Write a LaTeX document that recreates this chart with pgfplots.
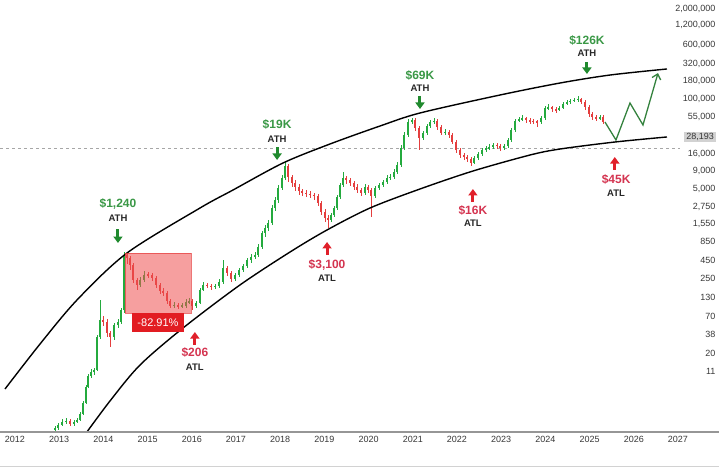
\documentclass[border=0pt]{standalone}
\usepackage{fontspec}
\setmainfont{Liberation Sans}
\usepackage{pgfplots}
\pgfplotsset{compat=1.18}
\usepackage{pgfplotstable}
\usetikzlibrary{arrows.meta}
\definecolor{cgreen}{RGB}{36,170,62}
\definecolor{cred}{RGB}{228,62,62}
\definecolor{agreen}{RGB}{32,138,46}
\definecolor{ared}{RGB}{224,32,42}
\definecolor{tgreen}{RGB}{58,152,70}
\definecolor{tred}{RGB}{212,52,80}
\definecolor{axisgray}{RGB}{150,150,150}
\definecolor{ticktext}{RGB}{55,55,55}
\definecolor{zig}{RGB}{52,130,62}

% x = year, o/c/h/l = log10 of price (open, close, high, low)
\pgfplotstableread{
x o c h l
2012.905 0.19 0.22 0.25 0.17
2012.973 0.22 0.27 0.30 0.20
2013.063 0.27 0.31 0.36 0.25
2013.154 0.31 0.33 0.37 0.28
2013.244 0.33 0.28 0.35 0.25
2013.335 0.28 0.31 0.34 0.26
2013.403 0.31 0.34 0.37 0.29
2013.471 0.34 0.43 0.46 0.32
2013.538 0.43 0.59 0.62 0.41
2013.606 0.59 0.82 0.85 0.57
2013.652 0.82 0.98 1.01 0.80
2013.719 0.98 1.04 1.08 0.95
2013.787 1.04 1.07 1.10 1.00
2013.855 1.07 1.55 1.58 1.05
2013.923 1.55 1.79 2.08 1.52
2013.991 1.79 1.76 1.85 1.70
2014.081 1.76 1.60 1.80 1.55
2014.149 1.60 1.55 1.63 1.40
2014.240 1.55 1.72 1.75 1.50
2014.330 1.72 1.76 1.80 1.68
2014.398 1.76 1.94 1.97 1.73
2014.466 1.94 2.74 2.78 1.90
2014.534 2.74 2.69 2.76 2.60
2014.602 2.69 2.59 2.72 2.52
2014.670 2.59 2.37 2.62 2.33
2014.760 2.37 2.30 2.40 2.22
2014.828 2.30 2.37 2.41 2.27
2014.919 2.37 2.45 2.50 2.35
2015.009 2.45 2.44 2.49 2.40
2015.100 2.44 2.40 2.47 2.36
2015.190 2.40 2.30 2.43 2.26
2015.281 2.30 2.21 2.33 2.17
2015.348 2.21 2.18 2.26 2.14
2015.439 2.18 2.07 2.21 2.03
2015.507 2.07 2.00 2.10 1.96
2015.597 2.00 2.01 2.05 1.97
2015.688 2.01 1.99 2.04 1.95
2015.778 1.99 2.00 2.04 1.96
2015.869 2.00 2.05 2.09 1.97
2015.937 2.05 2.07 2.11 2.02
2016.005 2.07 1.99 2.10 1.94
2016.095 1.99 2.04 2.07 1.96
2016.186 2.04 2.23 2.26 2.02
2016.253 2.23 2.30 2.34 2.21
2016.344 2.30 2.29 2.33 2.25
2016.434 2.29 2.27 2.32 2.23
2016.525 2.27 2.29 2.32 2.24
2016.615 2.29 2.34 2.38 2.26
2016.706 2.34 2.55 2.66 2.32
2016.796 2.55 2.47 2.58 2.43
2016.887 2.47 2.39 2.50 2.34
2016.977 2.39 2.45 2.48 2.36
2017.068 2.45 2.52 2.55 2.42
2017.158 2.52 2.58 2.61 2.49
2017.249 2.58 2.66 2.69 2.55
2017.339 2.66 2.71 2.75 2.62
2017.430 2.71 2.74 2.78 2.68
2017.498 2.74 2.85 2.89 2.71
2017.588 2.85 3.05 3.09 2.82
2017.656 3.05 3.13 3.17 3.00
2017.724 3.13 3.20 3.24 3.08
2017.814 3.20 3.42 3.46 3.17
2017.882 3.42 3.53 3.57 3.38
2017.950 3.53 3.71 3.75 3.49
2018.041 3.71 3.85 3.90 3.68
2018.109 3.85 4.03 4.09 3.82
2018.176 4.03 3.87 4.06 3.80
2018.267 3.87 3.78 3.90 3.72
2018.335 3.78 3.72 3.82 3.66
2018.425 3.72 3.66 3.76 3.61
2018.493 3.66 3.64 3.70 3.59
2018.584 3.64 3.62 3.68 3.57
2018.674 3.62 3.61 3.66 3.56
2018.765 3.61 3.59 3.64 3.54
2018.855 3.59 3.49 3.62 3.45
2018.923 3.49 3.36 3.52 3.31
2019.014 3.36 3.27 3.40 3.22
2019.081 3.27 3.24 3.31 3.13
2019.149 3.24 3.32 3.35 3.21
2019.217 3.32 3.42 3.45 3.29
2019.285 3.42 3.58 3.61 3.39
2019.353 3.58 3.75 3.78 3.55
2019.421 3.75 3.85 3.94 3.72
2019.489 3.85 3.82 3.88 3.77
2019.579 3.82 3.78 3.85 3.73
2019.670 3.78 3.72 3.81 3.68
2019.738 3.72 3.68 3.76 3.63
2019.828 3.68 3.64 3.71 3.59
2019.919 3.64 3.72 3.76 3.61
2019.986 3.72 3.68 3.75 3.63
2020.054 3.68 3.59 3.71 3.29
2020.145 3.59 3.71 3.74 3.56
2020.235 3.71 3.75 3.78 3.68
2020.326 3.75 3.79 3.83 3.72
2020.416 3.79 3.85 3.89 3.76
2020.484 3.85 3.87 3.91 3.83
2020.575 3.87 3.94 3.98 3.84
2020.643 3.94 4.04 4.08 3.91
2020.733 4.04 4.29 4.33 4.01
2020.801 4.29 4.48 4.52 4.26
2020.891 4.48 4.67 4.71 4.45
2020.982 4.67 4.69 4.73 4.63
2021.050 4.69 4.58 4.72 4.54
2021.140 4.58 4.43 4.61 4.26
2021.231 4.43 4.51 4.54 4.40
2021.321 4.51 4.61 4.64 4.48
2021.389 4.61 4.67 4.70 4.58
2021.480 4.67 4.68 4.72 4.63
2021.548 4.68 4.59 4.71 4.55
2021.638 4.59 4.51 4.62 4.47
2021.729 4.51 4.52 4.56 4.47
2021.819 4.52 4.48 4.55 4.44
2021.887 4.48 4.38 4.51 4.34
2021.977 4.38 4.26 4.41 4.22
2022.068 4.26 4.19 4.29 4.15
2022.158 4.19 4.16 4.22 4.12
2022.226 4.16 4.13 4.19 4.09
2022.317 4.13 4.07 4.16 4.03
2022.385 4.07 4.14 4.17 4.05
2022.475 4.14 4.20 4.23 4.11
2022.566 4.20 4.26 4.29 4.17
2022.656 4.26 4.29 4.32 4.23
2022.724 4.29 4.30 4.34 4.26
2022.814 4.30 4.33 4.36 4.28
2022.905 4.33 4.32 4.36 4.28
2022.973 4.32 4.29 4.34 4.25
2023.063 4.29 4.32 4.35 4.26
2023.154 4.32 4.40 4.43 4.29
2023.222 4.40 4.55 4.58 4.37
2023.312 4.55 4.68 4.71 4.52
2023.403 4.68 4.71 4.74 4.66
2023.471 4.71 4.72 4.76 4.68
2023.561 4.72 4.69 4.74 4.65
2023.652 4.69 4.68 4.72 4.64
2023.719 4.68 4.67 4.71 4.63
2023.810 4.67 4.66 4.70 4.59
2023.900 4.66 4.72 4.75 4.64
2023.991 4.72 4.87 4.90 4.69
2024.059 4.87 4.88 4.92 4.84
2024.149 4.88 4.85 4.90 4.81
2024.240 4.85 4.84 4.88 4.80
2024.308 4.84 4.87 4.90 4.82
2024.398 4.87 4.93 4.96 4.85
2024.489 4.93 4.96 4.99 4.91
2024.557 4.96 4.97 5.00 4.93
2024.647 4.97 4.99 5.02 4.95
2024.738 4.99 5.00 5.04 4.96
2024.805 5.00 4.96 5.02 4.92
2024.896 4.96 4.88 4.98 4.84
2024.986 4.88 4.78 4.91 4.74
2025.054 4.78 4.74 4.81 4.70
2025.145 4.74 4.72 4.77 4.68
2025.235 4.72 4.74 4.77 4.70
2025.303 4.74 4.67 4.76 4.63
}\candles

\pgfplotsset{
  candle/.style 2 args={draw=none, mark=none, forget plot, unbounded coords=discard,
    error bars/.cd, y dir=both, y explicit, error mark=none,
    error bar style={line width=#2, draw=#1, solid}},
}

\begin{document}
\begin{tikzpicture}
\path[use as bounding box] (0pt,-42pt) rectangle (719pt,432pt);
\begin{axis}[
  at={(0pt,0pt)}, anchor=south west,
  scale only axis, width=719pt, height=432pt,
  xmin=2011.661, xmax=2027.928, ymin=0.166, ymax=6.436,
  axis line style={draw=none},
  tick style={draw=none},
  major tick length=0pt,
  xtick={2012,2013,2014,2015,2016,2017,2018,2019,2020,2021,2022,2023,2024,2025,2026,2027},
  xticklabels={2012,2013,2014,2015,2016,2017,2018,2019,2020,2021,2022,2023,2024,2025,2026,2027},
  x tick label style={font=\fontsize{9}{10}\selectfont, text=ticktext, yshift=-1pt},
  yticklabel pos=right,
  ytick={6.301,6.079,5.778,5.505,5.255,5.0,4.740,4.204,3.954,3.699,3.439,3.190,2.929,2.653,2.398,2.114,1.845,1.580,1.301,1.041},
  yticklabels={{2,000,000},{1,200,000},{600,000},{320,000},{180,000},{100,000},{55,000},{16,000},{9,000},{5,000},{2,750},{1,550},{850},{450},{250},{130},{70},{38},{20},{11}},
  y tick label style={font=\fontsize{9}{10}\selectfont, text=ticktext, anchor=east},
  clip=true,
]
% current price dashed line
\addplot[gray!70, line width=0.6pt, dash pattern=on 3pt off 3pt] coordinates {(2011.661,4.288) (2027.05,4.288)};

% wicks
\addplot[candle={cgreen}{0.9pt}]
  table[x=x, y expr={\thisrow{c}>=\thisrow{o} ? (\thisrow{h}+\thisrow{l})/2 : nan},
        y error expr={(\thisrow{h}-\thisrow{l})/2}] {\candles};
\addplot[candle={cred}{0.9pt}]
  table[x=x, y expr={\thisrow{c}<\thisrow{o} ? (\thisrow{h}+\thisrow{l})/2 : nan},
        y error expr={(\thisrow{h}-\thisrow{l})/2}] {\candles};
% bodies
\addplot[candle={cgreen}{2.9pt}]
  table[x=x, y expr={\thisrow{c}>=\thisrow{o} ? (\thisrow{o}+\thisrow{c})/2 : nan},
        y error expr={max(abs(\thisrow{c}-\thisrow{o})/2,0.008)}] {\candles};
\addplot[candle={cred}{2.9pt}]
  table[x=x, y expr={\thisrow{c}<\thisrow{o} ? (\thisrow{o}+\thisrow{c})/2 : nan},
        y error expr={max(abs(\thisrow{c}-\thisrow{o})/2,0.008)}] {\candles};

% channel lines
\addplot[black, line width=1.4pt, smooth] coordinates {
(2011.774,0.790) (2012.566,1.443) (2013.403,2.082) (2014.534,2.764) (2016.186,3.417)
(2016.932,3.678) (2018.063,4.070) (2019.127,4.346) (2020.258,4.607) (2021.163,4.796)
(2022.973,5.057) (2024.330,5.231) (2025.462,5.347) (2026.751,5.435)};
\addplot[black, line width=1.4pt, smooth] coordinates {
(2013.561,0.108) (2014.149,0.616) (2014.828,1.138) (2015.801,1.675) (2017.090,2.300)
(2018.222,2.778) (2019.059,3.098) (2020.032,3.417) (2021.163,3.693) (2022.362,3.954)
(2023.652,4.186) (2024.330,4.273) (2025.575,4.375) (2026.751,4.448)};

% projected path
\addplot[zig, line width=1.3pt, -{Straight Barb[length=5pt,width=9pt]}] coordinates {
(2025.348,4.665) (2025.597,4.404) (2025.914,4.941) (2026.208,4.622) (2026.548,5.376)};

% drawdown box
\fill[fill={rgb,255:red,238;green,80;blue,80}, fill opacity=0.55]
  (axis cs:2014.489,2.764) rectangle (axis cs:2015.982,1.893);
\draw[draw={rgb,255:red,230;green,60;blue,60}, draw opacity=0.7, line width=0.6pt]
  (axis cs:2014.489,2.764) rectangle (axis cs:2015.982,1.893);
\fill[fill={rgb,255:red,226;green,28;blue,34}]
  (axis cs:2014.647,1.893) rectangle (axis cs:2015.824,1.617);
\node[text=white, font=\fontsize{11}{12}\selectfont] at (axis cs:2015.235,1.755) {-82.91\%};

% ATH annotations
\tikzset{lab/.style={font=\bfseries\fontsize{12}{13}\selectfont, inner sep=0pt},
         sub/.style={font=\bfseries\fontsize{9.5}{10}\selectfont, text=black!85, inner sep=0pt},
         garr/.style={agreen, line width=3pt, -{Triangle[width=9pt,length=6.5pt]}},
         rarr/.style={ared, line width=3pt, -{Triangle[width=9pt,length=6.5pt]}}}
\node[lab, text=tgreen] at (axis cs:2014.33,3.475) {\$1,240};
\node[sub] at (axis cs:2014.33,3.272) {ATH};
\draw[garr] (axis cs:2014.33,3.112) -- (axis cs:2014.33,2.909);

\node[lab, text=tgreen] at (axis cs:2017.93,4.622) {\$19K};
\node[sub] at (axis cs:2017.93,4.419) {ATH};
\draw[garr] (axis cs:2017.93,4.302) -- (axis cs:2017.93,4.114);

\node[lab, text=tgreen] at (axis cs:2021.163,5.347) {\$69K};
\node[sub] at (axis cs:2021.163,5.159) {ATH};
\draw[garr] (axis cs:2021.163,5.043) -- (axis cs:2021.163,4.854);

\node[lab, text=tgreen] at (axis cs:2024.94,5.855) {\$126K};
\node[sub] at (axis cs:2024.94,5.667) {ATH};
\draw[garr] (axis cs:2024.94,5.536) -- (axis cs:2024.94,5.362);

% ATL annotations
\node[lab, text=tred] at (axis cs:2016.07,1.313) {\$206};
\node[sub] at (axis cs:2016.07,1.109) {ATL};
\draw[rarr] (axis cs:2016.07,1.429) -- (axis cs:2016.07,1.617);

\node[lab, text=tred] at (axis cs:2019.06,2.590) {\$3,100};
\node[sub] at (axis cs:2019.06,2.401) {ATL};
\draw[rarr] (axis cs:2019.06,2.735) -- (axis cs:2019.06,2.924);

\node[lab, text=tred] at (axis cs:2022.36,3.374) {\$16K};
\node[sub] at (axis cs:2022.36,3.199) {ATL};
\draw[rarr] (axis cs:2022.36,3.504) -- (axis cs:2022.36,3.693);

\node[lab, text=tred] at (axis cs:2025.60,3.838) {\$45K};
\node[sub] at (axis cs:2025.60,3.635) {ATL};
\draw[rarr] (axis cs:2025.57,3.969) -- (axis cs:2025.57,4.157);

% current price label
\node[fill=gray!35, text=ticktext, font=\fontsize{9}{10}\selectfont, inner xsep=2pt, inner ysep=1.5pt, anchor=east]
  at (axis cs:2027.86,4.450) {28,193};
\end{axis}
\draw[axisgray, line width=1.8pt] (0pt,0pt) -- (719pt,0pt);
\draw[gray!35, line width=1pt] (0pt,-34pt) -- (719pt,-34pt);
\end{tikzpicture}
\end{document}
